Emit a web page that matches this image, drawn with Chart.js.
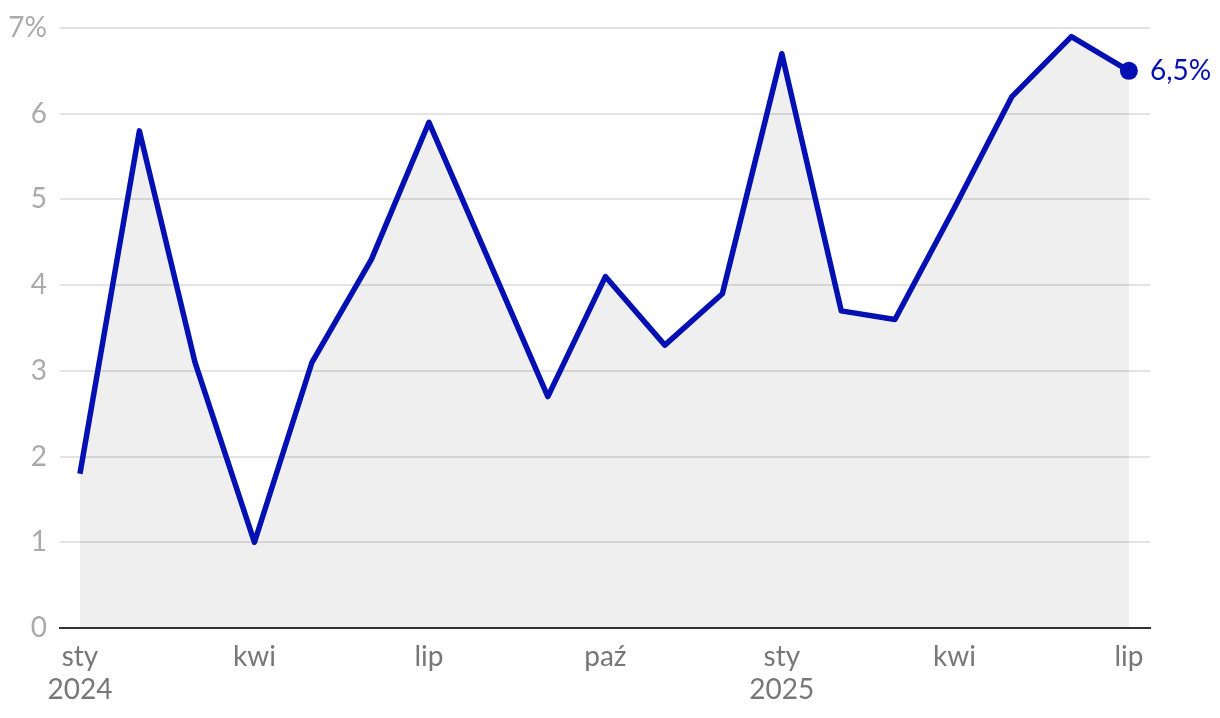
<!DOCTYPE html>
<html>
<head>
<meta charset="utf-8">
<script src="https://cdn.jsdelivr.net/npm/chart.js@4"></script>
<style>
  html, body { margin: 0; padding: 0; background: #fff; }
  #wrap { width: 1220px; height: 718px; }
</style>
</head>
<body>
<div id="wrap"><canvas id="chart"></canvas></div>
<script>
// miesiące sty 2024 - lip 2025 (rok, miesiąc 1-12)
const months = ['2024-01','2024-02','2024-03','2024-04','2024-05','2024-06','2024-07','2024-08',
                '2024-09','2024-10','2024-11','2024-12','2025-01','2025-02','2025-03','2025-04',
                '2025-05','2025-06','2025-07'];
const values = [1.8, 5.8, 3.1, 1.0, 3.1, 4.3, 5.9, 4.3, 2.7, 4.1, 3.3, 3.9,
                6.7, 3.7, 3.6, 4.9, 6.2, 6.9, 6.5];
const tickMonths = ['2024-01','2024-04','2024-07','2024-10','2025-01','2025-04','2025-07'];
const tickLabels = [['sty', '2024'], 'kwi', 'lip', 'paź', ['sty', '2025'], 'kwi', 'lip'];
const yTicks = [0, 1, 2, 3, 4, 5, 6, 7];

const BLUE = '#0410b1';
const FONT = 'Lato, "Noto Sans", sans-serif';

// dni od początku okresu
const dayOf = m => {
    const [y, mo] = m.split('-').map(Number);
    return (Date.UTC(y, mo - 1, 1) - Date.UTC(2024, 0, 1)) / 86400000;
};
const points = values.map((v, i) => ({ x: dayOf(months[i]), y: v }));
const tickDays = tickMonths.map(dayOf);

// etykieta ostatniej wartości
const lastLabel = {
    id: 'lastLabel',
    afterDatasetsDraw(chart) {
        const meta = chart.getDatasetMeta(0);
        const pt = meta.data[meta.data.length - 1];
        const ctx = chart.ctx;
        ctx.save();
        ctx.fillStyle = BLUE;
        ctx.font = '28px ' + FONT;
        ctx.textAlign = 'left';
        ctx.textBaseline = 'middle';
        const v = values[values.length - 1];
        ctx.fillText(v.toFixed(1).replace('.', ',') + '%', pt.x + 21, pt.y);
        ctx.restore();
    }
};

new Chart(document.getElementById('chart'), {
    type: 'line',
    data: {
        datasets: [{
            data: points,
            borderColor: BLUE,
            borderWidth: 5.5,
            backgroundColor: 'rgba(0,0,0,0.063)',
            fill: 'origin',
            tension: 0,
            borderJoinStyle: 'round',
            pointRadius: values.map((v, i) => i === values.length - 1 ? 9 : 0),
            pointBackgroundColor: BLUE,
            pointBorderWidth: 0
        }]
    },
    options: {
        responsive: true,
        maintainAspectRatio: false,
        animation: false,
        layout: { padding: { top: 28, right: 70, bottom: 0, left: 0 } },
        plugins: { legend: { display: false }, tooltip: { enabled: false } },
        scales: {
            x: {
                type: 'linear',
                min: -10.4,
                max: 558,
                afterBuildTicks: s => { s.ticks = tickDays.map(v => ({ value: v })); },
                afterFit: s => { s.height = 90; s.paddingLeft = 0; s.paddingRight = 0; },
                grid: { display: false, drawTicks: false },
                border: { display: true, color: '#333', width: 2 },
                ticks: {
                    autoSkip: false,
                    maxRotation: 0,
                    padding: 12,
                    color: '#777',
                    font: { family: FONT, size: 28, lineHeight: 1.2 },
                    callback: (v) => tickLabels[tickDays.indexOf(v)]
                }
            },
            y: {
                min: 0,
                max: 7,
                afterBuildTicks: s => { s.ticks = yTicks.map(v => ({ value: v })); },
                afterFit: s => { s.width = 60; s.paddingTop = 0; s.paddingBottom = 0; },
                grid: {
                    color: ctx => ctx.tick && ctx.tick.value === 0 ? 'rgba(0,0,0,0)' : '#e3e3e3',
                    lineWidth: 2,
                    drawTicks: false
                },
                border: { display: false },
                ticks: {
                    padding: 13,
                    color: '#aaa',
                    font: { family: FONT, size: 28, lineHeight: 1 },
                    callback: v => v === 7 ? '7%' : String(v)
                }
            }
        }
    },
    plugins: [lastLabel]
});
</script>
</body>
</html>
